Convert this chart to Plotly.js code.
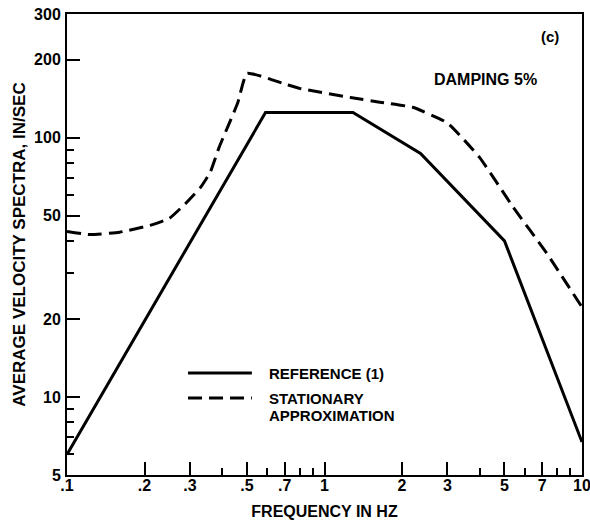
<!DOCTYPE html>
<html>
<head>
<meta charset="utf-8">
<script src="https://cdn.plot.ly/plotly-3.0.1.min.js"></script>
<style>html,body{margin:0;padding:0;background:#fff;}#chart{width:590px;height:525px;}</style>
</head>
<body>
<div id="chart"></div>
<script>
// Reference (1) spectrum
const refFreq = [0.1, 0.59, 1.29, 2.36, 5.0, 10];
const refVel  = [6.0, 125, 125, 87, 40, 6.7];

// Stationary approximation
const statFreq = [0.1, 0.123, 0.16, 0.21, 0.25, 0.29, 0.33, 0.36, 0.39, 0.46, 0.5, 0.69, 0.8, 1.26, 1.64, 2.2, 3.0, 4.0, 5.4, 7.3, 10];
const statVel  = [43.5, 42.3, 43.2, 45.9, 48.9, 56, 64.3, 73.6, 92, 136, 177, 162, 155, 143, 137, 131, 114, 84, 54, 35.8, 22.2];

const xTickVals = [0.1, 0.2, 0.3, 0.5, 0.7, 1, 2, 3, 5, 7, 10];
const xTickText = ['.1', '.2', '.3', '.5', '.7', '1', '2', '3', '5', '7', '10'];
const xMinorVals = [0.4, 0.6, 0.8, 0.9, 4, 6, 8, 9];
const yTickVals = [5, 10, 20, 50, 100, 200, 300];
const yTickText = ['5', '10', '20', '50', '100', '200', '300'];
const yMinorVals = [6, 7, 8, 9, 30, 40, 60, 70, 80, 90];

const legendLabels = ['REFERENCE (1)', 'STATIONARY', 'APPROXIMATION'];

const FONT = 'Liberation Sans, Arial, Helvetica, sans-serif';

const traces = [
  {x: refFreq, y: refVel, type: 'scatter', mode: 'lines', name: 'REFERENCE (1)',
   line: {color: '#000', width: 3}},
  {x: statFreq, y: statVel, type: 'scatter', mode: 'lines', name: 'STATIONARY APPROXIMATION',
   line: {color: '#000', width: 3, dash: '14px,7px', shape: 'spline', smoothing: 0.4}}
];

const layout = {
  width: 590, height: 525,
  margin: {l: 67, r: 8, t: 14, b: 50},
  paper_bgcolor: '#fff', plot_bgcolor: '#fff',
  showlegend: false,
  font: {family: FONT, color: '#000', size: 16, weight: 'bold'},
  xaxis: {
    type: 'log', range: [-1, 1],
    tickvals: xTickVals, ticktext: xTickText,
    ticks: 'inside', ticklen: 13, tickwidth: 2, tickcolor: '#000',
    ticklabeloverflow: 'allow', ticklabelstandoff: -5,
    minor: {tickvals: xMinorVals, ticks: 'inside', ticklen: 7, tickwidth: 2, tickcolor: '#000', showgrid: false},
    showgrid: false, zeroline: false,
    showline: true, linewidth: 2, linecolor: '#000', mirror: true,
    tickfont: {family: FONT, size: 16, color: '#000', weight: 'bold'},
    title: {text: 'FREQUENCY IN HZ', font: {family: FONT, size: 16, color: '#000', weight: 'bold'}, standoff: 13}
  },
  yaxis: {
    type: 'log', range: [Math.log10(5), Math.log10(300)],
    tickvals: yTickVals, ticktext: yTickText,
    ticks: 'inside', ticklen: 13, tickwidth: 2, tickcolor: '#000',
    ticklabeloverflow: 'allow', ticklabelstandoff: 1,
    minor: {tickvals: yMinorVals, ticks: 'inside', ticklen: 7, tickwidth: 2, tickcolor: '#000', showgrid: false},
    showgrid: false, zeroline: false,
    showline: true, linewidth: 2, linecolor: '#000', mirror: true,
    tickfont: {family: FONT, size: 16, color: '#000', weight: 'bold'},
    title: {text: 'AVERAGE VELOCITY SPECTRA, IN/SEC', font: {family: FONT, size: 17, color: '#000', weight: 'bold'}, standoff: 4}
  },
  shapes: [
    {type: 'line', xref: 'paper', yref: 'paper', x0: 0.235, x1: 0.359, y0: 0.221, y1: 0.221,
     line: {color: '#000', width: 3}},
    {type: 'line', xref: 'paper', yref: 'paper', x0: 0.235, x1: 0.359, y0: 0.167, y1: 0.167,
     line: {color: '#000', width: 3, dash: '14px,7px'}}
  ],
  annotations: [
    {xref: 'paper', yref: 'paper', x: 0.388, y: 0.221, xanchor: 'left', yanchor: 'middle', showarrow: false,
     text: legendLabels[0], font: {family: FONT, size: 15, color: '#000', weight: 'bold'}},
    {xref: 'paper', yref: 'paper', x: 0.388, y: 0.167, xanchor: 'left', yanchor: 'middle', showarrow: false,
     text: legendLabels[1], font: {family: FONT, size: 15, color: '#000', weight: 'bold'}},
    {xref: 'paper', yref: 'paper', x: 0.388, y: 0.130, xanchor: 'left', yanchor: 'middle', showarrow: false,
     text: legendLabels[2], font: {family: FONT, size: 15, color: '#000', weight: 'bold'}},
    {xref: 'paper', yref: 'paper', x: 0.812, y: 0.857, xanchor: 'center', yanchor: 'middle', showarrow: false,
     text: 'DAMPING 5%', font: {family: FONT, size: 16, color: '#000', weight: 'bold'}},
    {xref: 'paper', yref: 'paper', x: 0.938, y: 0.952, xanchor: 'center', yanchor: 'middle', showarrow: false,
     text: '(c)', font: {family: FONT, size: 15, color: '#000', weight: 'bold'}}
  ]
};

Plotly.newPlot('chart', traces, layout, {staticPlot: true, displayModeBar: false});
</script>
</body>
</html>
